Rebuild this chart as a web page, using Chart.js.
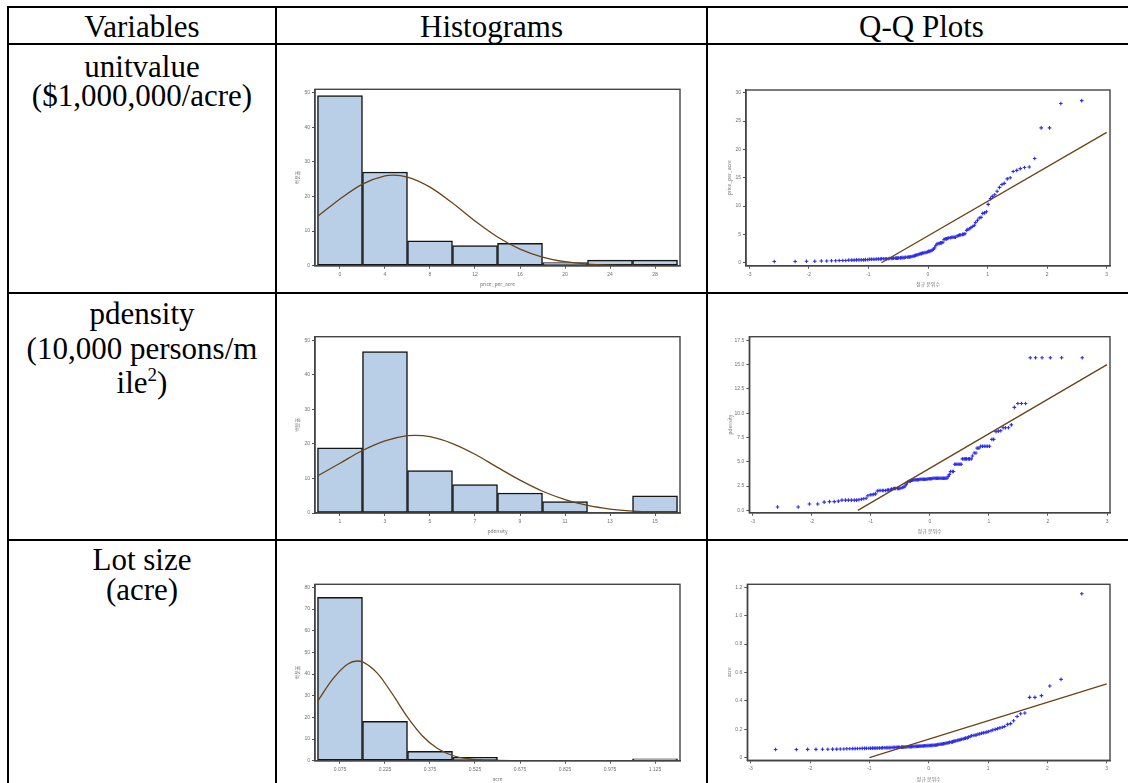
<!DOCTYPE html>
<html lang="en">
<head>
<meta charset="utf-8">
<title>Histograms and Q-Q plots</title>
<script src="https://cdn.jsdelivr.net/npm/chart.js@4.4.1/dist/chart.umd.min.js"></script>
<style>
  html, body { margin: 0; padding: 0; background: #fff; }
  body { position: relative; width: 1128px; height: 783px; overflow: hidden;
         font-family: 'Liberation Serif', 'Times New Roman', serif; }
  .rule { position: absolute; background: #000; }
  .cell { position: absolute; font-size: 31px; line-height: 31px; text-align: center; white-space: nowrap; color: #000; }
  .cell sup { font-size: 19px; line-height: 0; vertical-align: 12px; }
  canvas { position: absolute; }
</style>
</head>
<body>
<div class="rule" style="left:7px;top:6px;width:1121px;height:2px"></div>
<div class="rule" style="left:7px;top:43px;width:1121px;height:2px"></div>
<div class="rule" style="left:7px;top:292px;width:1121px;height:2px"></div>
<div class="rule" style="left:7px;top:539px;width:1121px;height:2px"></div>
<div class="rule" style="left:7px;top:6px;width:2px;height:777px"></div>
<div class="rule" style="left:275px;top:6px;width:2px;height:777px"></div>
<div class="rule" style="left:706px;top:6px;width:2px;height:777px"></div>

<div class="cell" style="left:9px;width:266px;top:11px">Variables</div>
<div class="cell" style="left:277px;width:429px;top:11px">Histograms</div>
<div class="cell" style="left:708px;width:427px;top:11px">Q-Q Plots</div>

<div class="cell" style="left:9px;width:266px;top:51px">unitvalue</div>
<div class="cell" style="left:9px;width:266px;top:80px">($1,000,000/acre)</div>

<div class="cell" style="left:9px;width:266px;top:298px">pdensity</div>
<div class="cell" style="left:9px;width:266px;top:333px">(10,000 persons/m</div>
<div class="cell" style="left:9px;width:266px;top:367px">ile<sup>2</sup>)</div>

<div class="cell" style="left:9px;width:266px;top:544px">Lot size</div>
<div class="cell" style="left:9px;width:266px;top:574px">(acre)</div>

<script>
// ---------- data ----------
// histogram 1 : price_per_acre (percent per bin of width 4)
const hist1Centers = [0, 4, 8, 12, 16, 20, 24, 28];
const hist1Percent = [49.2, 27.1, 7.2, 5.8, 6.5, 0.9, 1.6, 1.6];
const hist1CurveX = [-2, 0, 2, 4, 4.75, 6, 8, 10, 12, 14, 16, 18, 20, 22, 24, 26, 28, 30];
const hist1CurveY = [14.2, 19.3, 23.6, 26.0, 26.2, 25.6, 22.7, 18.1, 12.9, 8.3, 4.8, 2.5, 1.15, 0.48, 0.18, 0.06, 0.02, 0];
const hist1YTicks = [0, 10, 20, 30, 40, 50];

// histogram 2 : pdensity (bin width 2)
const hist2Centers = [1, 3, 5, 7, 9, 11, 13, 15];
const hist2Percent = [18.9, 46.7, 12.3, 8.2, 5.8, 3.3, 0, 5.0];
const hist2CurveX = [0, 1, 2, 3, 4, 4.34, 5, 6, 7, 8, 9, 10, 11, 12, 13, 14, 15, 16];
const hist2CurveY = [10.7, 14.4, 18.1, 20.9, 22.4, 22.5, 22.1, 20.1, 17.0, 13.2, 9.5, 6.3, 3.9, 2.2, 1.15, 0.55, 0.25, 0.1];
const hist2YTicks = [0, 10, 20, 30, 40, 50];

// histogram 3 : acre (bin width 0.15)
const hist3Centers = [0.075, 0.225, 0.375, 0.525, 0.675, 0.825, 0.975, 1.125];
const hist3Labels = ['0.075', '0.225', '0.375', '0.525', '0.675', '0.825', '0.975', '1.125'];
const hist3Percent = [75.4, 18.2, 4.3, 1.5, 0, 0, 0, 0.9];
const hist3CurveX = [0, 0.05, 0.1, 0.133, 0.15, 0.2, 0.25, 0.3, 0.35, 0.4, 0.45, 0.5, 0.55, 0.6, 0.7, 0.8, 1.0, 1.2];
const hist3CurveY = [27.3, 37.5, 44.5, 46.0, 45.6, 40.3, 30.7, 20.1, 11.4, 5.6, 2.4, 0.9, 0.3, 0.1, 0, 0, 0, 0];
const hist3YTicks = [0, 10, 20, 30, 40, 50, 60, 70, 80];

// normal scores on the Q-Q x axis (same 126 positions in all three plots)
const normalScores = [
  -2.58, -2.23, -2.04, -1.90, -1.79, -1.70, -1.62, -1.55, -1.49, -1.43, -1.38, -1.33, -1.28, -1.24, -1.20, -1.16,
  -1.12, -1.08, -1.05, -1.01, -0.98, -0.95, -0.92, -0.89, -0.86, -0.83, -0.80, -0.78, -0.75, -0.72, -0.70, -0.67,
  -0.65, -0.62, -0.60, -0.58, -0.55, -0.53, -0.51, -0.49, -0.46, -0.44, -0.42, -0.40, -0.38, -0.35, -0.33, -0.31,
  -0.29, -0.27, -0.25, -0.23, -0.21, -0.19, -0.17, -0.15, -0.13, -0.11, -0.09, -0.07, -0.05, -0.03, -0.01,
  0.01, 0.03, 0.05, 0.07, 0.09, 0.11, 0.13, 0.15, 0.17, 0.19, 0.21, 0.23, 0.25, 0.27, 0.29, 0.31,
  0.33, 0.35, 0.38, 0.40, 0.42, 0.44, 0.46, 0.49, 0.51, 0.53, 0.55, 0.58, 0.60, 0.62, 0.65, 0.67,
  0.70, 0.72, 0.75, 0.78, 0.80, 0.83, 0.86, 0.89, 0.92, 0.95, 0.98, 1.01, 1.05, 1.08, 1.12, 1.16,
  1.20, 1.24, 1.28, 1.33, 1.38, 1.43, 1.49, 1.55, 1.62, 1.70, 1.79, 1.90, 2.04, 2.23, 2.58
];
const qqXTicks = [-3, -2, -1, 0, 1, 2, 3];

// Q-Q 1 : price_per_acre, sorted
const qq1Values = [
  0.2, 0.2, 0.25, 0.25, 0.3, 0.3, 0.35, 0.35, 0.4, 0.4, 0.4, 0.45, 0.45, 0.45, 0.5, 0.5,
  0.5, 0.5, 0.55, 0.55, 0.6, 0.6, 0.6, 0.6, 0.65, 0.65, 0.65, 0.7, 0.7, 0.7, 0.7, 0.7,
  0.75, 0.75, 0.75, 0.8, 0.8, 0.8, 0.8, 0.85, 0.85, 0.9, 0.9, 0.9, 0.95, 0.95, 1.0, 1.0,
  1.05, 1.1, 1.15, 1.2, 1.3, 1.35, 1.4, 1.5, 1.6, 1.6, 1.7, 1.7, 1.8, 1.8, 1.9,
  2.0, 2.0, 2.1, 2.2, 2.4, 2.6, 3.0, 3.3, 3.4, 3.4, 3.5, 3.5, 3.6, 4.1, 4.2, 4.2,
  4.3, 4.4, 4.4, 4.5, 4.5, 4.5, 4.5, 4.7, 4.8, 4.9, 4.9, 5.0, 5.0, 5.1, 5.7, 5.9,
  6.0, 6.2, 6.4, 6.6, 7.1, 7.5, 7.9, 8.0, 8.7, 8.8, 9.0, 10.3, 11.3, 11.7, 12.0, 12.6,
  13.3, 13.8, 14.0, 14.8, 15.0, 16.1, 16.3, 16.6, 16.8, 16.9, 18.4, 23.8, 23.8, 28.1, 28.6
];
const qq1LineX = [-0.78, 3.0];
const qq1LineY = [0, 23.0];
const qq1YTicks = [0, 5, 10, 15, 20, 25, 30];

// Q-Q 2 : pdensity, sorted
const qq2Values = [
  0.35, 0.35, 0.65, 0.65, 0.85, 0.9, 0.9, 0.95, 1.05, 1.05, 1.05, 1.05, 1.05, 1.05, 1.1, 1.15,
  1.2, 1.25, 1.5, 1.6, 1.6, 1.65, 1.7, 2.0, 2.05, 2.05, 2.05, 2.05, 2.05, 2.1, 2.1, 2.1,
  2.2, 2.25, 2.25, 2.25, 2.25, 2.25, 2.25, 2.3, 2.35, 2.4, 2.5, 2.7, 2.9, 3.0, 3.0, 3.1,
  3.1, 3.15, 3.15, 3.15, 3.15, 3.15, 3.2, 3.2, 3.2, 3.2, 3.2, 3.2, 3.2, 3.25, 3.25,
  3.25, 3.25, 3.3, 3.3, 3.3, 3.3, 3.3, 3.3, 3.3, 3.3, 3.3, 3.3, 3.3, 3.3, 3.3, 3.5,
  3.7, 4.0, 4.0, 4.0, 4.75, 4.75, 4.75, 4.75, 4.75, 4.75, 5.3, 5.3, 5.3, 5.3, 5.3, 5.3,
  5.3, 5.6, 5.9, 5.9, 6.4, 6.4, 6.6, 6.6, 6.6, 6.6, 6.6, 6.6, 7.3, 7.3, 8.1, 8.15,
  8.2, 8.5, 8.5, 8.5, 8.8, 10.6, 11.0, 11.0, 11.0, 15.7, 15.7, 15.7, 15.7, 15.7, 15.7
];
const qq2LineX = [-1.22, 3.0];
const qq2LineY = [0, 15.0];
const qq2YTicks = [0, 2.5, 5, 7.5, 10, 12.5, 15, 17.5];
const qq2YLabels = ['0.0', '2.5', '5.0', '7.5', '10.0', '12.5', '15.0', '17.5'];

// Q-Q 3 : acre, sorted
const qq3Values = [
  0.058, 0.058, 0.059, 0.059, 0.06, 0.06, 0.061, 0.061, 0.062, 0.062, 0.063, 0.063, 0.064, 0.064, 0.065, 0.065,
  0.066, 0.066, 0.067, 0.067, 0.067, 0.068, 0.068, 0.068, 0.069, 0.069, 0.069, 0.07, 0.07, 0.07, 0.071, 0.071,
  0.071, 0.072, 0.072, 0.073, 0.073, 0.073, 0.074, 0.074, 0.075, 0.075, 0.075, 0.076, 0.076, 0.077, 0.077, 0.078,
  0.078, 0.079, 0.079, 0.08, 0.08, 0.081, 0.081, 0.082, 0.082, 0.083, 0.083, 0.084, 0.084, 0.085, 0.085,
  0.086, 0.086, 0.087, 0.087, 0.088, 0.089, 0.09, 0.092, 0.093, 0.095, 0.096, 0.097, 0.099, 0.1, 0.102, 0.104,
  0.106, 0.108, 0.11, 0.112, 0.115, 0.117, 0.12, 0.122, 0.125, 0.127, 0.13, 0.132, 0.135, 0.138, 0.14, 0.145,
  0.15, 0.155, 0.157, 0.158, 0.16, 0.165, 0.168, 0.172, 0.175, 0.178, 0.18, 0.185, 0.19, 0.195, 0.2, 0.205,
  0.21, 0.215, 0.22, 0.235, 0.24, 0.26, 0.29, 0.31, 0.315, 0.425, 0.425, 0.437, 0.505, 0.552, 1.155
];
const qq3LineX = [-1.0, 3.0];
const qq3LineY = [0, 0.52];
const qq3YTicks = [0, 0.2, 0.4, 0.6, 0.8, 1.0, 1.2];
const qq3YLabels = ['0', '0.2', '0.4', '0.6', '0.8', '1.0', '1.2'];

// ---------- look ----------
const BAR_FILL = '#b9cfe7';
const CURVE = '#6a4318';
const POINT = 'rgb(45, 45, 235)';
const Y_W = 36;   // width given to the y axis
const X_H = 24;   // height given to the x axis
const tickFont = { family: "'Liberation Sans', Arial, sans-serif", size: 5 };
const titleFont = { family: "'Noto Sans CJK KR', 'Liberation Sans', sans-serif", size: 5 };

const framePlugin = {
    id: 'frame',
    afterDraw(chart) {
        const { ctx, chartArea: a } = chart;
        ctx.save();
        ctx.strokeStyle = '#444';
        ctx.lineWidth = 1.4;
        ctx.strokeRect(a.left, a.top, a.right - a.left, a.bottom - a.top);
        ctx.restore();
    }
};

const pairs = (xs, ys) => xs.map((x, i) => ({ x: x, y: ys[i] }));

function axis(pos, min, max, ticks, labels, title, titlePad) {
    return {
        type: 'linear', position: pos, min: min, max: max, offset: false,
        afterBuildTicks: s => { s.ticks = ticks.map(v => ({ value: v })); },
        afterFit: s => { if (pos === 'bottom') s.height = X_H; else s.width = Y_W; },
        ticks: { font: tickFont, color: '#707070', padding: pos === 'bottom' ? 2.5 : 2,
                 maxRotation: 0, autoSkip: false, callback: (v, i) => labels[i] },
        grid: { display: true, drawOnChartArea: false, drawTicks: true, tickLength: 3,
                color: '#555', lineWidth: 1, offset: false },
        border: { display: true, color: '#444', width: 1.4 },
        title: { display: true, text: title, font: titleFont, color: '#777', padding: titlePad }
    };
}

// frame = [left, top, right, bottom] of the plot box on the page
function place(frame, yTitleX) {
    const [L, T, R, B] = frame;
    const left = Math.floor(L - Y_W), top = Math.floor(T - 6);
    const width = Math.ceil(R + 9) - left, height = Math.ceil(B + X_H + 2) - top;
    const canvas = document.createElement('canvas');
    canvas.width = width; canvas.height = height;
    canvas.style.left = left + 'px'; canvas.style.top = top + 'px';
    canvas.style.width = width + 'px'; canvas.style.height = height + 'px';
    document.body.appendChild(canvas);
    return {
        canvas: canvas,
        padding: { left: L - Y_W - left, top: T - top, right: left + width - R, bottom: top + height - B - X_H },
        yTitlePad: { top: yTitleX - (L - Y_W) - 3, bottom: 0 }
    };
}

function histogram(frame, yTitleX, centers, percent, curveX, curveY, xMin, xMax, xLabels, yMax, yTicks, xTitle) {
    const p = place(frame, yTitleX);
    return new Chart(p.canvas, {
        type: 'bar',
        data: {
            datasets: [
                { type: 'line', data: pairs(curveX, curveY), borderColor: CURVE, borderWidth: 1.3,
                  pointRadius: 0, cubicInterpolationMode: 'monotone', fill: false, order: 0 },
                { type: 'bar', data: pairs(centers, percent), backgroundColor: BAR_FILL,
                  borderColor: '#151515', borderWidth: 1.5, borderSkipped: false,
                  barPercentage: 1, categoryPercentage: 1, order: 1 }
            ]
        },
        options: {
            responsive: false, animation: false, events: [],
            layout: { padding: p.padding },
            plugins: { legend: { display: false }, tooltip: { enabled: false } },
            scales: {
                x: axis('bottom', xMin, xMax, centers, xLabels, xTitle, { top: 0, bottom: 2.7 }),
                y: axis('left', 0, yMax, yTicks, yTicks.map(String), '백분율', p.yTitlePad)
            }
        },
        plugins: [framePlugin]
    });
}

function qqPlot(frame, yTitleX, values, lineX, lineY, xMin, xMax, yMin, yMax, yTicks, yLabels, yTitle) {
    const p = place(frame, yTitleX);
    return new Chart(p.canvas, {
        type: 'scatter',
        data: {
            datasets: [
                { data: pairs(normalScores, values), pointStyle: 'cross', pointRadius: 1.8,
                  pointBorderWidth: 1.1, borderColor: POINT, backgroundColor: POINT, order: 1 },
                { data: pairs(lineX, lineY), showLine: true, pointRadius: 0,
                  borderColor: CURVE, borderWidth: 1.3, order: 0 }
            ]
        },
        options: {
            responsive: false, animation: false, events: [],
            layout: { padding: p.padding },
            plugins: { legend: { display: false }, tooltip: { enabled: false } },
            scales: {
                x: axis('bottom', xMin, xMax, qqXTicks, qqXTicks.map(String), '정규 분위수', { top: 0, bottom: 2.7 }),
                y: axis('left', yMin, yMax, yTicks, yLabels, yTitle, p.yTitlePad)
            }
        },
        plugins: [framePlugin]
    });
}

histogram([315, 89.3, 680, 265.7], 296.7, hist1Centers, hist1Percent, hist1CurveX, hist1CurveY,
          -2.22, 30.22, hist1Centers.map(String), 51, hist1YTicks, 'price_per_acre');
histogram([315, 336.7, 680, 513], 296.7, hist2Centers, hist2Percent, hist2CurveX, hist2CurveY,
          -0.11, 16.11, hist2Centers.map(String), 51.04, hist2YTicks, 'pdensity');
histogram([315, 584.3, 680, 760.7], 296.7, hist3Centers, hist3Percent, hist3CurveX, hist3CurveY,
          -0.0083, 1.2083, hist3Labels, 81.4, hist3YTicks, 'acre');

qqPlot([746, 90, 1110, 265.7], 729.3, qq1Values, qq1LineX, qq1LineY,
       -3.055, 3.055, -0.53, 30.48, qq1YTicks, qq1YTicks.map(String), 'price_per_acre');
qqPlot([749.3, 336.7, 1110, 512.7], 730, qq2Values, qq2LineX, qq2LineY,
       -3.058, 3.05, -0.24, 17.87, qq2YTicks, qq2YLabels, 'pdensity');
qqPlot([747.3, 584.3, 1110, 760.3], 729.3, qq3Values, qq3LineX, qq3LineY,
       -3.057, 3.055, -0.018, 1.221, qq3YTicks, qq3YLabels, 'acre');
</script>
</body>
</html>
